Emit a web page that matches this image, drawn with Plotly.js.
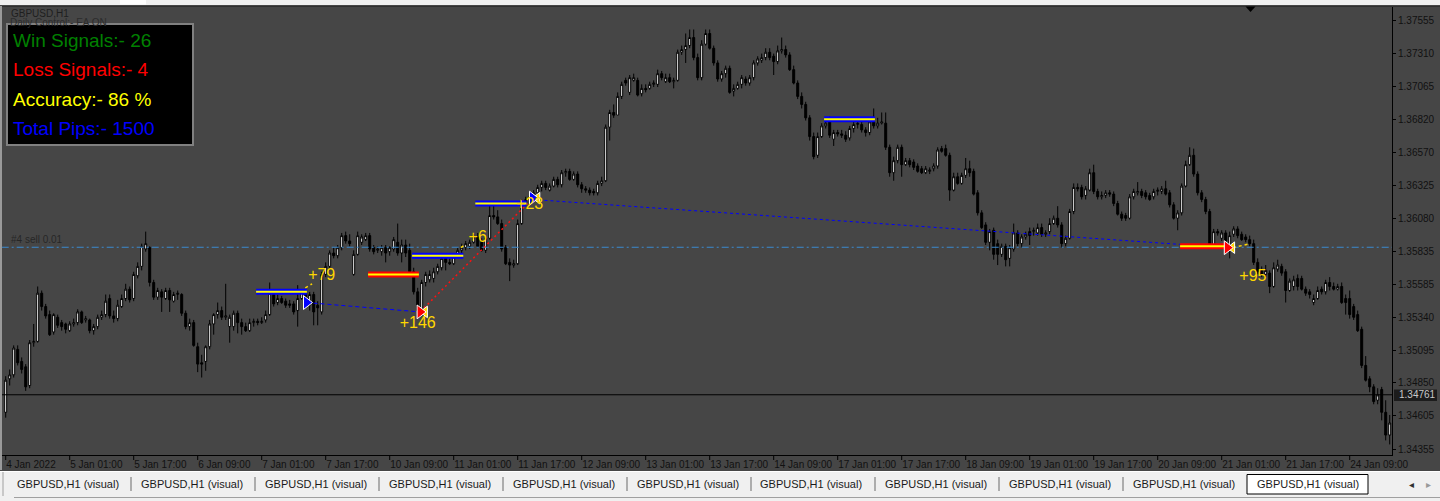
<!DOCTYPE html>
<html>
<head>
<meta charset="utf-8">
<script src="https://cdn.plot.ly/plotly-3.0.1.min.js"></script>
<style>
html,body{margin:0;padding:0;background:#464646;overflow:hidden;}
#chart{width:1440px;height:501px;}
</style>
</head>
<body>
<div id="chart"></div>
<script>
// ---------------- DATA (GBPUSD H1) ----------------
const open = [
1.3463,1.3488,1.3491,1.3510,1.3501,1.3497,1.3483,1.3515,1.3516,1.3552,
1.3542,1.3536,1.3523,1.3534,1.3530,1.3529,1.3524,1.3529,1.3530,1.3538,
1.3532,1.3532,1.3524,1.3527,1.3534,1.3536,1.3548,1.3535,1.3533,1.3542,
1.3548,1.3555,1.3548,1.3565,1.3572,1.3585,1.3586,1.3560,1.3549,1.3553,
1.3548,1.3554,1.3546,1.3551,1.3551,1.3537,1.3527,1.3530,1.3512,1.3500,
1.3501,1.3512,1.3529,1.3536,1.3539,1.3534,1.3527,1.3527,1.3537,1.3530,
1.3527,1.3524,1.3530,1.3531,1.3530,1.3532,1.3536,1.3551,1.3545,1.3548,
1.3546,1.3544,1.3544,1.3539,1.3548,1.3552,1.3543,1.3551,1.3543,1.3538,
1.3566,1.3572,1.3582,1.3580,1.3586,1.3595,1.3591,1.3566,1.3581,1.3590,
1.3592,1.3595,1.3586,1.3584,1.3583,1.3586,1.3583,1.3585,1.3590,1.3582,
1.3588,1.3584,1.3568,1.3553,1.3537,1.3560,1.3562,1.3563,1.3568,1.3571,
1.3579,1.3575,1.3574,1.3581,1.3584,1.3586,1.3587,1.3590,1.3594,1.3590,
1.3584,1.3593,1.3610,1.3609,1.3604,1.3586,1.3575,1.3573,1.3574,1.3604,
1.3619,1.3622,1.3624,1.3627,1.3631,1.3634,1.3629,1.3632,1.3637,1.3633,
1.3642,1.3643,1.3637,1.3641,1.3633,1.3630,1.3629,1.3628,1.3627,1.3634,
1.3636,1.3676,1.3687,1.3685,1.3699,1.3711,1.3702,1.3711,1.3711,1.3701,
1.3705,1.3705,1.3708,1.3708,1.3716,1.3710,1.3713,1.3710,1.3711,1.3732,
1.3734,1.3737,1.3743,1.3728,1.3713,1.3738,1.3746,1.3735,1.3724,1.3712,
1.3716,1.3720,1.3703,1.3705,1.3708,1.3712,1.3709,1.3713,1.3724,1.3726,
1.3728,1.3732,1.3729,1.3725,1.3733,1.3734,1.3730,1.3719,1.3709,1.3699,
1.3693,1.3683,1.3669,1.3655,1.3669,1.3677,1.3681,1.3667,1.3672,1.3671,
1.3670,1.3668,1.3675,1.3678,1.3678,1.3674,1.3672,1.3680,1.3677,1.3679,
1.3679,1.3661,1.3642,1.3651,1.3661,1.3648,1.3651,1.3650,1.3647,1.3645,
1.3642,1.3643,1.3645,1.3647,1.3660,1.3660,1.3655,1.3629,1.3639,1.3634,
1.3640,1.3645,1.3643,1.3627,1.3612,1.3603,1.3590,1.3599,1.3589,1.3581,
1.3587,1.3578,1.3585,1.3597,1.3589,1.3594,1.3598,1.3598,1.3597,1.3601,
1.3596,1.3598,1.3604,1.3608,1.3603,1.3589,1.3593,1.3613,1.3631,1.3631,
1.3625,1.3629,1.3642,1.3628,1.3624,1.3625,1.3627,1.3626,1.3619,1.3611,
1.3610,1.3608,1.3624,1.3627,1.3628,1.3627,1.3625,1.3624,1.3628,1.3628,
1.3630,1.3627,1.3618,1.3608,1.3612,1.3632,1.3648,1.3655,1.3641,1.3627,
1.3622,1.3613,1.3588,1.3598,1.3593,1.3597,1.3588,1.3596,1.3600,1.3596,
1.3594,1.3592,1.3589,1.3575,1.3569,1.3566,1.3567,1.3557,1.3570,1.3572,
1.3568,1.3554,1.3557,1.3563,1.3563,1.3555,1.3553,1.3545,1.3548,1.3555,
1.3553,1.3560,1.3557,1.3555,1.3557,1.3548,1.3548,1.3542,1.3536,1.3525,
1.3498,1.3488,1.3482,1.3472,1.3480,1.3463,1.3446];
const high = [
1.3490,1.3495,1.3513,1.3513,1.3504,1.3499,1.3517,1.3529,1.3557,1.3554,
1.3544,1.3539,1.3537,1.3536,1.3532,1.3530,1.3531,1.3533,1.3540,1.3539,
1.3535,1.3533,1.3529,1.3536,1.3539,1.3551,1.3551,1.3539,1.3547,1.3551,
1.3559,1.3557,1.3568,1.3575,1.3589,1.3598,1.3587,1.3562,1.3556,1.3555,
1.3556,1.3556,1.3553,1.3554,1.3552,1.3539,1.3533,1.3532,1.3515,1.3506,
1.3513,1.3532,1.3537,1.3545,1.3542,1.3559,1.3536,1.3539,1.3539,1.3533,
1.3530,1.3533,1.3533,1.3533,1.3534,1.3539,1.3560,1.3554,1.3551,1.3550,
1.3548,1.3547,1.3546,1.3558,1.3555,1.3554,1.3553,1.3553,1.3546,1.3568,
1.3575,1.3584,1.3586,1.3588,1.3597,1.3598,1.3596,1.3584,1.3598,1.3596,
1.3597,1.3597,1.3588,1.3587,1.3588,1.3588,1.3587,1.3594,1.3604,1.3592,
1.3592,1.3589,1.3571,1.3556,1.3562,1.3568,1.3569,1.3571,1.3574,1.3580,
1.3581,1.3578,1.3581,1.3586,1.3589,1.3591,1.3592,1.3596,1.3597,1.3593,
1.3595,1.3618,1.3618,1.3614,1.3607,1.3588,1.3578,1.3577,1.3607,1.3622,
1.3624,1.3626,1.3629,1.3633,1.3636,1.3636,1.3634,1.3639,1.3639,1.3644,
1.3645,1.3645,1.3643,1.3643,1.3635,1.3632,1.3631,1.3630,1.3636,1.3639,
1.3678,1.3689,1.3693,1.3702,1.3710,1.3713,1.3715,1.3716,1.3713,1.3708,
1.3708,1.3710,1.3711,1.3719,1.3718,1.3716,1.3716,1.3713,1.3734,1.3737,
1.3746,1.3749,1.3749,1.3731,1.3741,1.3749,1.3749,1.3737,1.3726,1.3718,
1.3722,1.3722,1.3708,1.3710,1.3715,1.3714,1.3715,1.3726,1.3729,1.3731,
1.3735,1.3735,1.3731,1.3737,1.3743,1.3737,1.3732,1.3722,1.3711,1.3702,
1.3695,1.3685,1.3672,1.3672,1.3679,1.3681,1.3684,1.3674,1.3674,1.3674,
1.3673,1.3677,1.3680,1.3683,1.3681,1.3676,1.3682,1.3690,1.3683,1.3687,
1.3687,1.3663,1.3654,1.3663,1.3663,1.3653,1.3653,1.3652,1.3649,1.3647,
1.3647,1.3646,1.3649,1.3661,1.3662,1.3663,1.3657,1.3642,1.3642,1.3642,
1.3653,1.3651,1.3645,1.3629,1.3614,1.3605,1.3600,1.3601,1.3592,1.3589,
1.3589,1.3588,1.3604,1.3599,1.3596,1.3598,1.3601,1.3601,1.3604,1.3604,
1.3599,1.3608,1.3610,1.3617,1.3605,1.3595,1.3615,1.3634,1.3634,1.3633,
1.3632,1.3645,1.3648,1.3630,1.3628,1.3629,1.3629,1.3628,1.3621,1.3613,
1.3612,1.3626,1.3630,1.3635,1.3630,1.3629,1.3627,1.3630,1.3631,1.3632,
1.3636,1.3629,1.3620,1.3614,1.3634,1.3651,1.3661,1.3660,1.3643,1.3629,
1.3624,1.3615,1.3600,1.3600,1.3599,1.3599,1.3598,1.3602,1.3602,1.3598,
1.3596,1.3595,1.3592,1.3578,1.3572,1.3573,1.3569,1.3575,1.3577,1.3574,
1.3570,1.3563,1.3565,1.3566,1.3565,1.3557,1.3555,1.3551,1.3557,1.3557,
1.3562,1.3564,1.3560,1.3559,1.3560,1.3551,1.3554,1.3544,1.3539,1.3527,
1.3505,1.3490,1.3484,1.3481,1.3482,1.3472,1.3461];
const low = [
1.3459,1.3483,1.3489,1.3498,1.3492,1.3479,1.3481,1.3512,1.3515,1.3539,
1.3533,1.3520,1.3521,1.3526,1.3524,1.3522,1.3523,1.3527,1.3528,1.3529,
1.3530,1.3522,1.3521,1.3525,1.3532,1.3534,1.3533,1.3530,1.3531,1.3541,
1.3546,1.3545,1.3546,1.3563,1.3569,1.3583,1.3557,1.3547,1.3547,1.3538,
1.3547,1.3538,1.3545,1.3547,1.3535,1.3525,1.3524,1.3512,1.3493,1.3489,
1.3494,1.3510,1.3521,1.3533,1.3532,1.3532,1.3515,1.3524,1.3522,1.3521,
1.3523,1.3523,1.3527,1.3528,1.3529,1.3530,1.3535,1.3542,1.3543,1.3544,
1.3541,1.3541,1.3536,1.3527,1.3547,1.3543,1.3539,1.3528,1.3528,1.3536,
1.3564,1.3569,1.3578,1.3578,1.3584,1.3589,1.3587,1.3565,1.3580,1.3588,
1.3591,1.3583,1.3581,1.3582,1.3580,1.3575,1.3580,1.3583,1.3580,1.3575,
1.3579,1.3566,1.3551,1.3537,1.3535,1.3557,1.3560,1.3560,1.3566,1.3569,
1.3569,1.3573,1.3573,1.3580,1.3582,1.3584,1.3585,1.3589,1.3586,1.3583,
1.3582,1.3592,1.3607,1.3603,1.3583,1.3573,1.3561,1.3571,1.3573,1.3603,
1.3617,1.3619,1.3622,1.3625,1.3628,1.3629,1.3628,1.3631,1.3631,1.3631,
1.3639,1.3636,1.3636,1.3631,1.3627,1.3627,1.3625,1.3625,1.3625,1.3632,
1.3635,1.3666,1.3683,1.3685,1.3697,1.3707,1.3700,1.3710,1.3699,1.3699,
1.3702,1.3704,1.3706,1.3706,1.3711,1.3709,1.3709,1.3705,1.3710,1.3730,
1.3724,1.3735,1.3726,1.3711,1.3711,1.3737,1.3734,1.3722,1.3710,1.3710,
1.3713,1.3701,1.3699,1.3704,1.3705,1.3707,1.3707,1.3711,1.3722,1.3724,
1.3726,1.3726,1.3715,1.3723,1.3731,1.3728,1.3718,1.3708,1.3697,1.3690,
1.3681,1.3666,1.3652,1.3653,1.3668,1.3675,1.3668,1.3662,1.3669,1.3668,
1.3665,1.3666,1.3672,1.3675,1.3672,1.3669,1.3670,1.3675,1.3675,1.3678,
1.3659,1.3639,1.3636,1.3649,1.3639,1.3647,1.3646,1.3644,1.3642,1.3641,
1.3641,1.3641,1.3643,1.3645,1.3657,1.3654,1.3621,1.3628,1.3633,1.3633,
1.3638,1.3639,1.3625,1.3610,1.3600,1.3588,1.3584,1.3577,1.3573,1.3579,
1.3572,1.3572,1.3583,1.3587,1.3586,1.3592,1.3588,1.3595,1.3595,1.3594,
1.3594,1.3596,1.3603,1.3601,1.3586,1.3587,1.3592,1.3611,1.3628,1.3622,
1.3622,1.3628,1.3626,1.3622,1.3622,1.3623,1.3624,1.3617,1.3610,1.3606,
1.3606,1.3607,1.3622,1.3625,1.3623,1.3622,1.3621,1.3622,1.3625,1.3626,
1.3625,1.3616,1.3607,1.3599,1.3610,1.3631,1.3647,1.3639,1.3625,1.3620,
1.3611,1.3586,1.3586,1.3595,1.3591,1.3589,1.3578,1.3594,1.3593,1.3591,
1.3590,1.3587,1.3573,1.3566,1.3564,1.3564,1.3552,1.3556,1.3568,1.3565,
1.3545,1.3553,1.3554,1.3554,1.3554,1.3550,1.3548,1.3543,1.3547,1.3551,
1.3551,1.3554,1.3554,1.3554,1.3544,1.3536,1.3533,1.3532,1.3523,1.3496,
1.3486,1.3478,1.3469,1.3469,1.3457,1.3442,1.3439];
const close = [
1.3487,1.3491,1.3511,1.3500,1.3495,1.3482,1.3515,1.3516,1.3552,1.3542,
1.3535,1.3521,1.3536,1.3528,1.3527,1.3525,1.3529,1.3530,1.3538,1.3530,
1.3533,1.3524,1.3527,1.3534,1.3536,1.3546,1.3535,1.3533,1.3543,1.3548,
1.3555,1.3547,1.3566,1.3572,1.3587,1.3589,1.3560,1.3549,1.3554,1.3549,
1.3554,1.3547,1.3551,1.3552,1.3537,1.3527,1.3530,1.3513,1.3499,1.3499,
1.3512,1.3529,1.3536,1.3539,1.3534,1.3535,1.3534,1.3537,1.3530,1.3527,
1.3524,1.3530,1.3531,1.3530,1.3531,1.3536,1.3552,1.3544,1.3548,1.3545,
1.3543,1.3543,1.3538,1.3548,1.3553,1.3545,1.3551,1.3538,1.3541,1.3566,
1.3572,1.3582,1.3580,1.3586,1.3595,1.3591,1.3589,1.3581,1.3595,1.3594,
1.3595,1.3585,1.3583,1.3585,1.3586,1.3582,1.3586,1.3592,1.3582,1.3588,
1.3582,1.3568,1.3553,1.3539,1.3560,1.3566,1.3566,1.3568,1.3572,1.3578,
1.3575,1.3574,1.3579,1.3584,1.3586,1.3589,1.3590,1.3594,1.3587,1.3584,
1.3593,1.3610,1.3609,1.3604,1.3585,1.3574,1.3573,1.3574,1.3604,1.3619,
1.3622,1.3624,1.3627,1.3631,1.3634,1.3631,1.3632,1.3637,1.3633,1.3642,
1.3643,1.3637,1.3641,1.3633,1.3630,1.3629,1.3627,1.3627,1.3634,1.3636,
1.3676,1.3687,1.3685,1.3699,1.3708,1.3709,1.3713,1.3713,1.3700,1.3705,
1.3704,1.3708,1.3709,1.3716,1.3713,1.3713,1.3710,1.3711,1.3732,1.3734,
1.3737,1.3743,1.3728,1.3713,1.3738,1.3746,1.3735,1.3724,1.3712,1.3716,
1.3720,1.3702,1.3705,1.3708,1.3713,1.3709,1.3713,1.3724,1.3727,1.3728,
1.3732,1.3728,1.3725,1.3733,1.3734,1.3730,1.3719,1.3709,1.3699,1.3693,
1.3683,1.3669,1.3654,1.3669,1.3677,1.3679,1.3670,1.3672,1.3671,1.3670,
1.3667,1.3675,1.3678,1.3679,1.3674,1.3672,1.3680,1.3677,1.3679,1.3680,
1.3661,1.3642,1.3651,1.3661,1.3648,1.3651,1.3648,1.3646,1.3643,1.3642,
1.3645,1.3644,1.3647,1.3659,1.3658,1.3655,1.3629,1.3639,1.3634,1.3640,
1.3645,1.3642,1.3626,1.3612,1.3601,1.3590,1.3598,1.3581,1.3581,1.3587,
1.3577,1.3586,1.3597,1.3589,1.3594,1.3596,1.3595,1.3599,1.3601,1.3596,
1.3597,1.3604,1.3608,1.3603,1.3589,1.3593,1.3613,1.3631,1.3630,1.3624,
1.3630,1.3642,1.3628,1.3624,1.3625,1.3627,1.3626,1.3619,1.3611,1.3608,
1.3608,1.3624,1.3628,1.3628,1.3625,1.3624,1.3622,1.3628,1.3629,1.3630,
1.3626,1.3618,1.3608,1.3612,1.3632,1.3648,1.3655,1.3641,1.3627,1.3622,
1.3613,1.3588,1.3598,1.3597,1.3597,1.3591,1.3595,1.3600,1.3595,1.3592,
1.3592,1.3589,1.3575,1.3568,1.3566,1.3569,1.3557,1.3571,1.3573,1.3567,
1.3554,1.3561,1.3562,1.3557,1.3555,1.3552,1.3551,1.3548,1.3554,1.3553,
1.3560,1.3557,1.3555,1.3557,1.3545,1.3545,1.3536,1.3534,1.3524,1.3498,
1.3487,1.3482,1.3471,1.3476,1.3463,1.3446,1.3455];

// x-axis time labels (bar index of each label, 16 bars apart)
const tickBars = [0,16,32,48,64,80,96,112,128,144,160,176,192,208,224,240,256,272,288,304,320,336];
const tickLabels = ['4 Jan 2022','5 Jan 01:00','5 Jan 17:00','6 Jan 09:00','7 Jan 01:00','7 Jan 17:00',
  '10 Jan 09:00','11 Jan 01:00','11 Jan 17:00','12 Jan 09:00','13 Jan 01:00','13 Jan 17:00',
  '14 Jan 09:00','17 Jan 01:00','17 Jan 17:00','18 Jan 09:00','19 Jan 01:00','19 Jan 17:00',
  '20 Jan 09:00','21 Jan 01:00','21 Jan 17:00','24 Jan 09:00'];
// price-axis labels
const priceTicks = [1.37555,1.37310,1.37065,1.36820,1.36570,1.36325,1.36080,1.35835,1.35585,1.35340,1.35095,1.34850,1.34605,1.34355];
const priceLabels = ['1.37555','1.37310','1.37065','1.36820','1.36570','1.36325','1.36080','1.35835','1.35585','1.35340','1.35095','1.34850','1.34605','1.34355'];

// signal levels (bar from, bar to, price, result)
const levelFrom  = [62.6, 90.6, 101.6, 117.4, 204.6, 293.6];
const levelTo    = [75.3, 103.3, 114.4, 130.2, 217.3, 305.3];
const levelPrice = [1.3553, 1.3566, 1.3580, 1.3619, 1.3682, 1.3587];
const levelWin   = [true, false, true, true, true, false];

// trade arrows
const entryBars = [75.2, 131.7];
const entryPrices = [1.3545, 1.3623];
const exitBars = [103.6, 305.4];
const exitPrices = [1.3538, 1.3586];
const closeMarkBars = [104.8, 132.9, 306.6];
const closeMarkPrices = [1.3538, 1.3623, 1.3586];

// trade connection lines
const blueDashBars = [75.2, 103.6];   const blueDashPrices = [1.3545, 1.3538];
const redDotBars   = [104.6, 130.8];  const redDotPrices   = [1.3541, 1.3620];
const blueDotBars  = [131.7, 305.4];  const blueDotPrices  = [1.3622, 1.3586];
const yellowFrom = [74.9, 113.8, 306.8];
const yellowTo   = [76.6, 114.8, 311.1];
const yellowFromP = [1.3556, 1.3586, 1.3586];
const yellowToP   = [1.3559, 1.3588, 1.3589];

// pip result labels
const pipText   = ['+79', '+146', '+6', '+23', '+95'];
const pipBars   = [79, 103, 118, 131, 311.8];
const pipPrices = [1.3565, 1.3529, 1.3593, 1.3618, 1.3564];

// order line and bid
const sellOrderPrice = 1.35863;
const sellOrderLabel = '#4 sell 0.01';
const bidPrice = 1.34761;
const bidLabel = '1.34761';

// info panel
const panelLines = ['Win Signals:- 26', 'Loss Signals:- 4', 'Accuracy:- 86 %', 'Total Pips:- 1500'];
const panelColors = ['#008000', '#ff0000', '#ffff00', '#0000ff'];
const tabTitle = 'GBPUSD,H1 (visual)';
const tabCount = 11;

// ---------------- CHART ----------------
const bars = close.map((_, i) => i);
const N = close.length;
const PX = x => (x - 2) / 1390;
const PY = y => (455 - y) / 448;
const FONT = 'Liberation Sans, Arial, sans-serif';

function segs(fromArr, toArr, pFrom, pTo, pick) {
  const xs = [], ys = [];
  fromArr.forEach((f, i) => {
    if (pick && !pick(i)) return;
    xs.push(f, toArr[i], null);
    ys.push(pFrom[i], pTo[i], null);
  });
  return {xs, ys};
}

const traces = [];
traces.push({type:'scatter', mode:'lines', x:[-1, N], y:[sellOrderPrice, sellOrderPrice],
  line:{color:'#3b8bd0', width:1, dash:'7px,3px,2px,3px'}, hoverinfo:'skip', showlegend:false});
traces.push({type:'scatter', mode:'lines', x:[-1, N], y:[bidPrice, bidPrice],
  line:{color:'#000000', width:1}, hoverinfo:'skip', showlegend:false});
traces.push({type:'candlestick', x:bars, open:open, high:high, low:low, close:close,
  increasing:{line:{color:'#000000', width:1}, fillcolor:'#ffffff'},
  decreasing:{line:{color:'#000000', width:1}, fillcolor:'#000000'},
  whiskerwidth:0, hoverinfo:'skip', showlegend:false});
traces.push({type:'scatter', mode:'lines', x:blueDashBars, y:blueDashPrices,
  line:{color:'#0000ff', width:1, dash:'4px,3px'}, hoverinfo:'skip', showlegend:false});
traces.push({type:'scatter', mode:'lines', x:redDotBars, y:redDotPrices,
  line:{color:'#ff1010', width:1.5, dash:'2px,3px'}, hoverinfo:'skip', showlegend:false});
traces.push({type:'scatter', mode:'lines', x:blueDotBars, y:blueDotPrices,
  line:{color:'#0000ff', width:1, dash:'3px,3px'}, hoverinfo:'skip', showlegend:false});
const yl = segs(yellowFrom, yellowTo, yellowFromP, yellowToP);
traces.push({type:'scatter', mode:'lines', x:yl.xs, y:yl.ys,
  line:{color:'#ffd700', width:1.5, dash:'3px,3px'}, hoverinfo:'skip', showlegend:false});
const win = segs(levelFrom, levelTo, levelPrice, levelPrice, i => levelWin[i]);
const loss = segs(levelFrom, levelTo, levelPrice, levelPrice, i => !levelWin[i]);
const all = segs(levelFrom, levelTo, levelPrice, levelPrice);
traces.push({type:'scatter', mode:'lines', x:win.xs, y:win.ys, line:{color:'#0000ff', width:6},
  hoverinfo:'skip', showlegend:false});
traces.push({type:'scatter', mode:'lines', x:loss.xs, y:loss.ys, line:{color:'#ff0000', width:6},
  hoverinfo:'skip', showlegend:false});
traces.push({type:'scatter', mode:'lines', x:all.xs, y:all.ys, line:{color:'#ffff00', width:2},
  hoverinfo:'skip', showlegend:false});
traces.push({type:'scatter', mode:'markers', x:closeMarkBars, y:closeMarkPrices,
  marker:{symbol:'triangle-left', size:10, color:'#ffd700', line:{color:'#ffffff', width:1}},
  hoverinfo:'skip', showlegend:false});
traces.push({type:'scatter', mode:'markers', x:entryBars, y:entryPrices,
  marker:{symbol:'triangle-right', size:12, color:'#0000ff', line:{color:'#ffffff', width:1}},
  hoverinfo:'skip', showlegend:false});
traces.push({type:'scatter', mode:'markers', x:exitBars, y:exitPrices,
  marker:{symbol:'triangle-right', size:12, color:'#ff0000', line:{color:'#ffffff', width:1}},
  hoverinfo:'skip', showlegend:false});
traces.push({type:'scatter', mode:'text', x:pipBars, y:pipPrices, text:pipText,
  textposition:'middle center', textfont:{family:FONT, size:16, color:'#ffd700'},
  hoverinfo:'skip', showlegend:false, cliponaxis:false});

const shapes = [];
const annotations = [];
// x-axis tick marks (below the axis line)
tickBars.forEach(b => {
  shapes.push({type:'line', xref:'x', yref:'paper', x0:b, x1:b, y0:0, y1:PY(460),
    line:{color:'#000000', width:1}, layer:'above'});
});
// top window strip
shapes.push({type:'rect', xref:'paper', yref:'paper', x0:PX(0), x1:PX(1440), y0:PY(0), y1:PY(5.5),
  fillcolor:'#f0f0f0', line:{width:0}, layer:'above'});
shapes.push({type:'rect', xref:'paper', yref:'paper', x0:PX(120), x1:PX(146), y0:PY(0), y1:PY(4.5),
  fillcolor:'#ffffff', line:{width:0}, layer:'above'});
shapes.push({type:'line', xref:'paper', yref:'paper', x0:PX(0), x1:PX(1440), y0:PY(6), y1:PY(6),
  line:{color:'#2a2a2a', width:1.5}, layer:'above'});
// left border
shapes.push({type:'line', xref:'paper', yref:'paper', x0:PX(1), x1:PX(1), y0:PY(6), y1:PY(470),
  line:{color:'#9a9a9a', width:2}, layer:'above'});
// chart shift marker
shapes.push({type:'path', xref:'paper', yref:'paper',
  path:`M ${PX(1245.5)},${PY(6.5)} L ${PX(1255.5)},${PY(6.5)} L ${PX(1250.5)},${PY(12)} Z`,
  fillcolor:'#000000', line:{width:0}, layer:'above'});
// info panel
shapes.push({type:'rect', xref:'paper', yref:'paper', x0:PX(7), x1:PX(193), y0:PY(24), y1:PY(145),
  fillcolor:'#000000', line:{color:'#808080', width:2}, layer:'above'});
// bid label box
shapes.push({type:'rect', xref:'paper', yref:'paper', x0:PX(1394), x1:PX(1437), y0:PY(389.5), y1:PY(401),
  fillcolor:'#1c1c1c', line:{width:0}, layer:'above'});
// tab bar
shapes.push({type:'rect', xref:'paper', yref:'paper', x0:PX(0), x1:PX(1440), y0:PY(471), y1:PY(501),
  fillcolor:'#f0f0f0', line:{width:0}, layer:'above'});
shapes.push({type:'line', xref:'paper', yref:'paper', x0:PX(0), x1:PX(1440), y0:PY(471.5), y1:PY(471.5),
  line:{color:'#ffffff', width:1}, layer:'above'});
shapes.push({type:'line', xref:'paper', yref:'paper', x0:PX(3), x1:PX(3), y0:PY(472), y1:PY(496),
  line:{color:'#a0a0a0', width:1}, layer:'above'});
shapes.push({type:'line', xref:'paper', yref:'paper', x0:PX(14), x1:PX(1440), y0:PY(497.5), y1:PY(497.5),
  line:{color:'#a0a0a0', width:1}, layer:'above'});
for (let i = 0; i < tabCount - 2; i++) {
  const sx = 131 + 124 * i;
  shapes.push({type:'line', xref:'paper', yref:'paper', x0:PX(sx), x1:PX(sx), y0:PY(477), y1:PY(491),
    line:{color:'#6a6a6a', width:1}, layer:'above'});
}
shapes.push({type:'rect', xref:'paper', yref:'paper', x0:PX(1247), x1:PX(1368), y0:PY(474.5), y1:PY(494),
  fillcolor:'#ffffff', line:{color:'#000000', width:1}, layer:'above'});

for (let i = 0; i < tabCount; i++) {
  annotations.push({xref:'paper', yref:'paper', x:PX(67.5 + 124 * i), y:PY(484.5), text:tabTitle,
    showarrow:false, xanchor:'center', yanchor:'middle', font:{family:FONT, size:11, color:'#1a1a1a'}});
}
annotations.push({xref:'paper', yref:'paper', x:PX(1411), y:PY(484), text:'◂', showarrow:false,
  xanchor:'center', yanchor:'middle', font:{family:'DejaVu Sans', size:10, color:'#303030'}});
annotations.push({xref:'paper', yref:'paper', x:PX(1428), y:PY(484), text:'▸', showarrow:false,
  xanchor:'center', yanchor:'middle', font:{family:'DejaVu Sans', size:10, color:'#9a9a9a'}});

// chart captions
annotations.push({xref:'paper', yref:'paper', x:PX(9), y:PY(13.5), text:'GBPUSD,H1', showarrow:false,
  xanchor:'left', yanchor:'middle', font:{family:FONT, size:10, color:'#1e1e1e'}});
annotations.push({xref:'paper', yref:'paper', x:PX(9), y:PY(22.5), text:'Daily Control:- EA ON', showarrow:false,
  xanchor:'left', yanchor:'middle', borderpad:0, font:{family:FONT, size:10, color:'#2c2c2c'}});
panelLines.forEach((t, i) => {
  annotations.push({xref:'paper', yref:'paper', x:PX(12), y:PY(40 + 29.5 * i), text:t, showarrow:false,
    xanchor:'left', yanchor:'middle', borderpad:0, font:{family:FONT, size:19, color:panelColors[i]}});
});
annotations.push({xref:'x', yref:'y', x:0.8, y:sellOrderPrice, text:sellOrderLabel, showarrow:false,
  xanchor:'left', yanchor:'bottom', font:{family:FONT, size:10, color:'#262626'}});
annotations.push({xref:'paper', yref:'y', x:PX(1397), y:bidPrice, text:bidLabel, showarrow:false,
  xanchor:'left', yanchor:'middle', font:{family:FONT, size:10, color:'#c8c8c8'}});

const layout = {
  width:1440, height:501,
  margin:{l:2, r:48, t:7, b:46, pad:0},
  paper_bgcolor:'#464646', plot_bgcolor:'#464646',
  font:{family:FONT, size:10, color:'#111111'},
  showlegend:false, hovermode:false,
  xaxis:{range:[-0.925, 346.575], showgrid:false, zeroline:false, showline:true,
    linecolor:'#000000', linewidth:1, ticks:'', tickangle:0,
    tickmode:'array', tickvals:tickBars, ticktext:tickLabels, ticklabelposition:'outside right',
    tickfont:{family:FONT, size:10, color:'#111111'}, rangeslider:{visible:false}, fixedrange:true},
  yaxis:{range:[1.34311, 1.37658], side:'right', showgrid:false, zeroline:false, showline:true,
    linecolor:'#000000', linewidth:1, ticks:'outside', ticklen:3, tickcolor:'#000000',
    tickmode:'array', tickvals:priceTicks, ticktext:priceLabels,
    tickfont:{family:FONT, size:10, color:'#111111'}, fixedrange:true},
  shapes:shapes, annotations:annotations
};

Plotly.newPlot('chart', traces, layout, {displayModeBar:false, staticPlot:true});
</script>
</body>
</html>
